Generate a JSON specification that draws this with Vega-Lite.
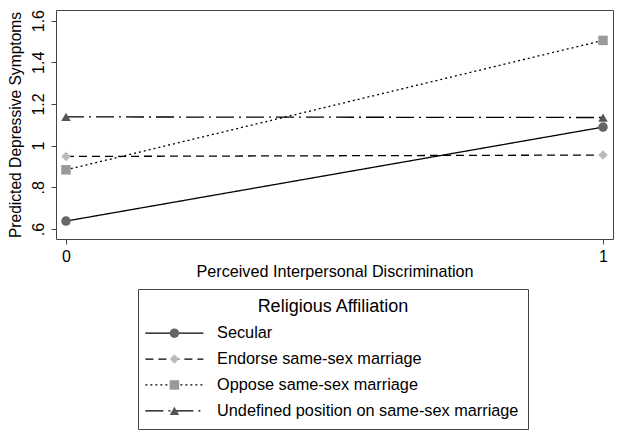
{
  "$schema": "https://vega.github.io/schema/vega-lite/v6.json",
  "autosize": "none",
  "width": 557,
  "height": 229,
  "padding": {"left": 56, "top": 10, "right": 8, "bottom": 204},
  "background": "white",
  "config": {
    "font": "Liberation Sans",
    "view": {"stroke": "#444", "strokeWidth": 1}
  },
  "data": {
    "values": [
      {"group": "Secular", "x": 0, "y": 0.638},
      {"group": "Secular", "x": 1, "y": 1.089},
      {"group": "Endorse same-sex marriage", "x": 0, "y": 0.948},
      {"group": "Endorse same-sex marriage", "x": 1, "y": 0.955},
      {"group": "Oppose same-sex marriage", "x": 0, "y": 0.884},
      {"group": "Oppose same-sex marriage", "x": 1, "y": 1.505},
      {"group": "Undefined position on same-sex marriage", "x": 0, "y": 1.138},
      {"group": "Undefined position on same-sex marriage", "x": 1, "y": 1.135}
    ]
  },
  "encoding": {
    "x": {
      "field": "x", "type": "quantitative",
      "scale": {"domain": [-0.0186, 1.0186], "nice": false, "zero": false},
      "axis": {
        "title": "Perceived Interpersonal Discrimination", "format": "d",
        "values": [0, 1], "grid": false, "domain": false,
        "tickSize": 5, "tickColor": "#444", "labelPadding": 4,
        "labelFontSize": 16, "labelColor": "black",
        "titleFontSize": 16.2, "titleFontWeight": "normal", "titleColor": "black", "titlePadding": -1
      }
    },
    "y": {
      "field": "y", "type": "quantitative",
      "scale": {"domain": [0.552, 1.651], "nice": false, "zero": false},
      "axis": {
        "title": "Predicted Depressive Symptoms",
        "values": [0.6, 0.8, 1, 1.2, 1.4, 1.6], "grid": false, "domain": false,
        "labelExpr": "datum.value < 1 ? '.' + round(datum.value * 10) : format(datum.value, '~g')",
        "labelAngle": -90, "labelAlign": "center", "labelBaseline": "bottom",
        "tickSize": 5, "tickColor": "#444", "labelPadding": 5,
        "labelFontSize": 16, "labelColor": "black",
        "titleFontSize": 15.6, "titleFontWeight": "normal", "titleColor": "black", "titlePadding": 7
      }
    }
  },
  "layer": [
    {
      "mark": {"type": "line", "color": "black", "strokeWidth": 1.3},
      "encoding": {
        "strokeDash": {
          "field": "group", "type": "nominal",
          "scale": {
            "domain": ["Secular", "Endorse same-sex marriage", "Oppose same-sex marriage", "Undefined position on same-sex marriage"],
            "range": [[1, 0], [8, 5], [2, 3], [18, 5, 2, 5]]
          },
          "legend": {
            "orient": "none", "legendX": 82, "legendY": 279,
            "title": "Religious Affiliation", "titleFontSize": 18, "titleFontWeight": "normal",
            "titleColor": "black", "titleAnchor": "middle", "titlePadding": 9,
            "labelFontSize": 16.3, "labelColor": "black", "labelOffset": 34.5, "labelLimit": 400,
            "symbolType": "M-6.12,0H6.12", "symbolSize": 90, "symbolOffset": 19.26,
            "symbolStrokeColor": "black", "symbolStrokeWidth": 1.3, "rowPadding": 8.9,
            "strokeColor": "#444", "padding": 9
          }
        }
      }
    },
    {
      "mark": {"type": "point", "filled": true, "opacity": 1, "size": 90},
      "encoding": {
        "shape": {
          "field": "group", "type": "nominal",
          "scale": {
            "domain": ["Secular", "Endorse same-sex marriage", "Oppose same-sex marriage", "Undefined position on same-sex marriage", "none"],
            "range": ["circle", "diamond", "square", "triangle-up", "circle"]
          },
          "legend": {
            "orient": "none", "legendX": 82, "legendY": 279,
            "values": ["Secular", "Endorse same-sex marriage", "Oppose same-sex marriage", "Undefined position on same-sex marriage"],
            "title": "Religious Affiliation", "titleFontSize": 18, "titleFontWeight": "normal",
            "titleOpacity": 0, "titleAnchor": "middle", "titlePadding": 9,
            "labelFontSize": 16.3, "labelOpacity": 0, "labelOffset": 34.5, "labelLimit": 400,
            "symbolSize": 90, "symbolOffset": 19.26, "symbolStrokeWidth": 0,
            "rowPadding": 8.9, "padding": 9
          }
        },
        "color": {
          "field": "group", "type": "nominal",
          "scale": {
            "domain": ["Secular", "Endorse same-sex marriage", "Oppose same-sex marriage", "Undefined position on same-sex marriage", "none"],
            "range": ["#666666", "#bbbbbb", "#999999", "#555555", "#666666"]
          }
        }
      }
    }
  ]
}
